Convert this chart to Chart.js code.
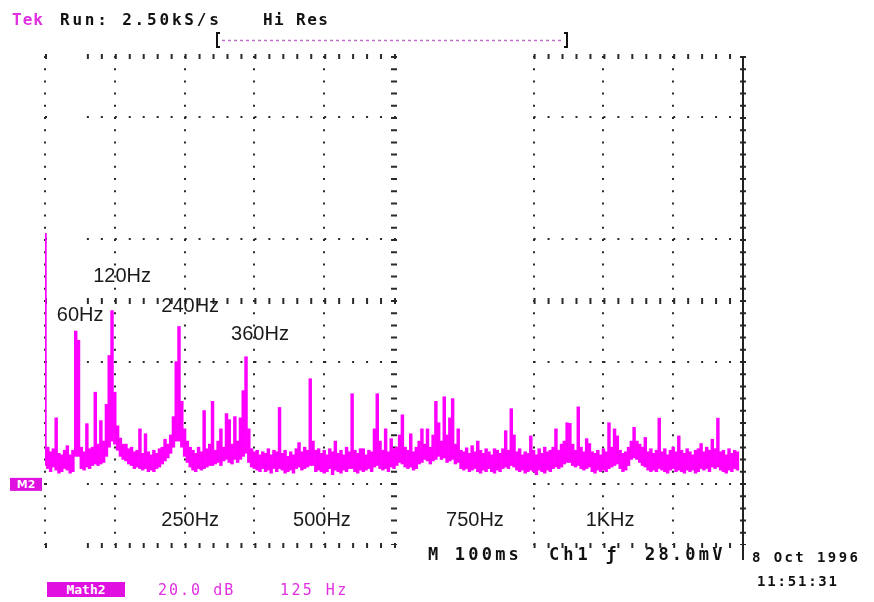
<!DOCTYPE html>
<html lang="en">
<head>
<meta charset="UTF-8">
<title>Tek FFT - Math2</title>
<script src="https://cdn.jsdelivr.net/npm/chart.js"></script>
<style>
  body { margin: 0; background: #fff; }
  .screen { position: relative; width: 874px; height: 602px; overflow: hidden; }
  .screen canvas { position: absolute; left: 0; top: 0; }
  .txt {
    position: absolute;
    font-family: "DejaVu Sans Mono", monospace;
    font-size: 16px;
    line-height: 16px;
    color: #111;
    white-space: pre;
  }
  .b { font-weight: bold; }
  .mag { color: #e030e0; }
  .box { background: #e010e0; color: #fff; font-weight: bold; font-size: 13px; line-height: 15px; text-align: center; }
</style>
</head>
<body>
<div class="screen">
  <canvas id="fft" width="874" height="602"></canvas>

  <div class="txt mag b" style="left:12px; top:12px; letter-spacing:1px;">Tek</div>
  <div class="txt b" style="left:60px; top:12px; letter-spacing:2.8px;">Run: 2.50kS/s</div>
  <div class="txt b" style="left:263px; top:12px; letter-spacing:1.4px;">Hi Res</div>

  <div class="txt b" style="left:428px; top:546px; font-size:17px; letter-spacing:3.2px;">M 100ms</div>
  <div class="txt b" style="left:549px; top:546px; font-size:17px; letter-spacing:4px;">Ch1 ƒ</div>
  <div class="txt b" style="left:645px; top:546px; font-size:17px; letter-spacing:3.2px;">28.0mV</div>
  <div class="txt b" style="left:752px; top:549px; font-size:14px; letter-spacing:2.4px;">8 Oct 1996</div>
  <div class="txt b" style="left:757px; top:573px; font-size:14px; letter-spacing:1.8px;">11:51:31</div>

  <div class="txt box" style="left:47px; top:582px; width:78px; height:15px;">Math2</div>
  <div class="txt mag" style="left:158px; top:582px; font-size:15px; letter-spacing:2px;">20.0 dB</div>
  <div class="txt mag" style="left:280px; top:582px; font-size:15px; letter-spacing:2.4px;">125 Hz</div>
</div>

<script>
  // FFT of Ch1 (Math2), 5 Hz per bin; each bin is drawn from its lowest to its
  // highest level, in dB above the M2 reference
  const binHz = 5;
  const levels = [
    82, 12, 10.5, 11.5, 21.6, 10, 9.5, 11, 12.5, 9.5,
    11, 50, 47, 12, 10.5, 19.7, 11.5, 12, 30, 13,
    20.7, 14, 26, 42, 56.7, 30, 19, 15, 13, 13,
    11.5, 12, 10.5, 11, 18, 10, 16.4, 10.5, 9.5, 11,
    10, 11.5, 12, 14.6, 13, 16, 22, 40, 51.5, 27,
    18, 14, 12, 11, 10, 12, 10.5, 24, 11.5, 13,
    27, 11, 14, 18, 12, 23, 21, 13, 22, 14,
    21.6, 30.5, 41.6, 18, 11.5, 10.5, 11, 9.5, 10.5, 10,
    11.5, 9.5, 11, 10.5, 25, 10, 11, 9, 10.5, 9.5,
    11.5, 13.5, 10.5, 12, 11, 34.4, 14, 11, 11.5, 10,
    11, 9.5, 11.5, 10.5, 14, 10, 11, 9.5, 12, 10.5,
    29.5, 11, 10, 11.5, 11.5, 9.5, 11, 10.5, 18, 29.5,
    14, 11, 18, 10.5, 14.8, 11.5, 12, 16, 22.6, 12,
    11, 16.4, 10.5, 12, 14, 18, 13, 18, 12, 16,
    27, 20, 14, 28.5, 16, 21.6, 27.9, 13, 18, 11,
    10.5, 11.8, 10, 12.5, 10.5, 14, 11, 10, 11.5, 10.5,
    9.5, 11.5, 11, 10, 11.5, 17.4, 11, 24.6, 16, 10.5,
    11.5, 9.5, 10.5, 10, 15.7, 11, 9.5, 11.5, 10, 12,
    10.5, 11, 12, 18, 11, 13, 14, 20, 19.8, 13,
    11, 25.2, 12, 10.5, 14.8, 13.2, 10.5, 10, 11, 9.5,
    11.5, 10.5, 20, 12, 18, 15.7, 11, 10, 10.5, 12,
    14, 18.5, 14, 13, 12, 15.2, 10.5, 11.5, 10, 11,
    21.5, 10.5, 11.5, 9.5, 11, 12, 10.5, 15.7, 11, 10,
    11.5, 10.5, 9.5, 11, 11.5, 13.2, 10.5, 12, 11, 14.6,
    11.5, 21.5, 10.5, 11, 9.5, 11.5, 10, 11, 10.5
  ];
  const floors = [
    6, 5, 4, 5.5, 4.5, 3.5, 4, 5, 4.5, 3.5,
    4, 9, 9, 5, 4.5, 5.5, 5, 6, 6.5, 6,
    6.5, 7, 9, 12, 14, 13, 11, 9, 8, 7.5,
    6.5, 6, 5, 5.5, 5, 4.5, 5, 4, 4.5, 4,
    5, 5.5, 6.5, 7.5, 8.5, 10, 12, 14, 14, 12,
    9, 7, 5.5, 4.5, 4, 5, 4.5, 5, 5.5, 6,
    6, 6.5, 7, 6, 7.5, 8, 7, 6.5, 8, 7,
    8, 9, 10, 7, 5.5, 5, 4.5, 4, 5, 4,
    4.5, 3.5, 5, 4, 5, 4.5, 3.5, 4, 4.5, 3.5,
    5, 5.5, 4.5, 5, 5.5, 6, 6, 4, 4.5, 4,
    3.5, 4, 5, 3, 4.5, 4, 3.5, 4.5, 4, 5,
    5, 4, 3.5, 4.5, 4, 4.5, 5, 4, 5.5, 6,
    5, 4.5, 5, 4, 5.5, 5, 6, 7, 6.5, 5.5,
    5, 5.5, 4.5, 5, 6.5, 7, 8, 7.5, 6.5, 7.5,
    8, 9, 8, 8.5, 7, 7.5, 8, 6.5, 7, 5,
    4.5, 5, 4, 4.5, 5, 4, 3.5, 4.5, 4, 5,
    4, 3.5, 4.5, 4, 5, 5.5, 5, 6, 5.5, 4.5,
    4, 4.5, 3.5, 4, 4.5, 4, 3, 4.5, 4, 3.5,
    4.5, 4, 5, 5.5, 5, 5.5, 6.5, 7, 7, 6,
    5.5, 6, 5, 4.5, 5, 5.5, 4, 3.5, 4.5, 4,
    4.5, 4, 5, 5.5, 6, 6.5, 5, 4, 4.5, 6,
    8, 8.5, 8, 7, 6, 5.5, 4.5, 4, 4.5, 4,
    5, 4.5, 4, 3.5, 4.5, 5, 4, 4.5, 4, 3.5,
    4.5, 4, 4.5, 3.5, 4, 5, 4.5, 5, 4, 5.5,
    5, 5.5, 4.5, 4, 3.5, 4.5, 4, 5, 4.5
  ];
  const freqs = levels.map((v, i) => i * binHz);

  // screen: 10 divisions of 125 Hz, 8 divisions of 20 dB
  const hzPerDiv = 125;
  const dbPerDiv = 20;
  const hzMax = 1250;
  const dbMin = -20;
  const dbMax = 140;

  // text marks written on the screen
  const peakNames = ['60Hz', '120Hz', '240Hz', '360Hz'];
  const peakLabelHz = [63, 138, 260, 385];
  const peakLabelDb = [55, 68, 58, 49];
  const freqNames = ['250Hz', '500Hz', '750Hz', '1KHz'];
  const freqLabelHz = [260, 496, 770, 1012];
  const freqLabelDb = -12;

  const dotColor = '#2a2a2a';

  const screenPlugin = {
    id: 'screen',
    beforeDatasetsDraw(chart) {
      // parts of the graticule that did not come out on the print
      const { ctx, chartArea: a, scales: { x } } = chart;
      ctx.save();
      ctx.fillStyle = '#fff';
      ctx.fillRect(a.left + 2, a.top - 4, x.getPixelForValue(68) - a.left - 2, a.bottom - a.top + 8);
      const l = x.getPixelForValue(642);
      ctx.fillRect(l, a.top - 4, x.getPixelForValue(867) - l, a.bottom - a.top + 8);
      ctx.restore();
    },
    afterDatasetsDraw(chart) {
      const { ctx, chartArea: a, scales: { x, y } } = chart;
      ctx.save();

      // right edge of the graticule
      ctx.fillStyle = '#222';
      ctx.fillRect(a.right - 1, a.top, 2, a.bottom - a.top + 15);

      // record window bracket
      ctx.strokeStyle = '#111';
      ctx.lineWidth = 2;
      ctx.beginPath();
      ctx.moveTo(220, 33); ctx.lineTo(217, 33); ctx.lineTo(217, 47); ctx.lineTo(220, 47);
      ctx.moveTo(564, 33); ctx.lineTo(567, 33); ctx.lineTo(567, 47); ctx.lineTo(564, 47);
      ctx.stroke();
      ctx.strokeStyle = '#c070c8';
      ctx.lineWidth = 1.5;
      ctx.setLineDash([3, 3]);
      ctx.beginPath();
      ctx.moveTo(222, 40.5); ctx.lineTo(563, 40.5);
      ctx.stroke();
      ctx.setLineDash([]);

      // M2 reference marker
      const ym = y.getPixelForValue(0);
      ctx.fillStyle = '#e010e0';
      ctx.fillRect(10, ym - 6, 32, 13);
      ctx.fillStyle = '#fff';
      ctx.font = 'bold 11px "DejaVu Sans"';
      ctx.textAlign = 'center';
      ctx.textBaseline = 'middle';
      ctx.fillText('M2', 26, ym + 1);

      // labels
      ctx.fillStyle = '#1a1a1a';
      ctx.font = '20px "Liberation Sans", Arial, sans-serif';
      peakNames.forEach((t, i) => {
        ctx.fillText(t, x.getPixelForValue(peakLabelHz[i]), y.getPixelForValue(peakLabelDb[i]));
      });
      freqNames.forEach((t, i) => {
        ctx.fillText(t, x.getPixelForValue(freqLabelHz[i]), y.getPixelForValue(freqLabelDb));
      });
      ctx.restore();
    }
  };

  new Chart(document.getElementById('fft'), {
    type: 'bar',
    data: {
      datasets: [{
        label: 'Math2',
        data: freqs.map((f, i) => ({ x: f, y: [floors[i], levels[i]] })),
        backgroundColor: '#ff00ff',
        borderWidth: 0,
        barPercentage: 1,
        categoryPercentage: 1
      }]
    },
    options: {
      responsive: false,
      animation: false,
      layout: { padding: { left: 45, right: 131, top: 56, bottom: 57 } },
      plugins: {
        legend: { display: false },
        tooltip: { enabled: false }
      },
      scales: {
        x: {
          type: 'linear',
          min: 0,
          max: hzMax,
          offset: false,
          ticks: { display: false, stepSize: hzPerDiv },
          grid: {
            offset: false,
            color: dotColor,
            drawTicks: false,
            lineWidth: c => (c.index === 5 ? 6 : c.index === 10 ? 6 : 2)
          },
          border: { display: false, dash: [2, 10.2] }
        },
        y: {
          min: dbMin,
          max: dbMax,
          ticks: { display: false, stepSize: dbPerDiv },
          grid: {
            color: c => (c.index === 2 || c.index === 6 ? 'rgba(0,0,0,0)' : dotColor),
            drawTicks: false,
            lineWidth: c => (c.index === 4 ? 6 : c.index === 0 || c.index === 8 ? 5 : 2)
          },
          border: { display: false, dash: [2, 11.96] }
        }
      }
    },
    plugins: [screenPlugin]
  });
</script>
</body>
</html>
